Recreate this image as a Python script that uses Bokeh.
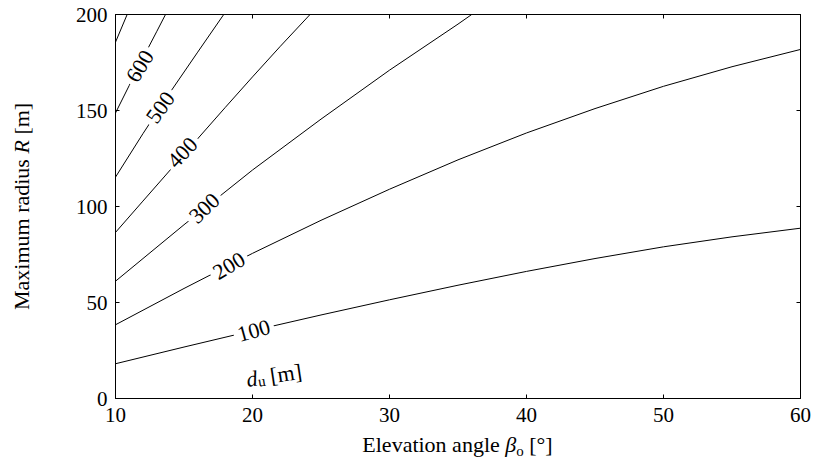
import math
from bokeh.plotting import figure
from bokeh.models import LinearAxis, Label, ColumnDataSource, FixedTicker, Range1d, Div
from bokeh.layouts import row, column
from bokeh.embed import file_html
from bokeh.resources import INLINE
from bokeh.core.properties import value

# ---------------- data ----------------
x_ticks = [10, 20, 30, 40, 50, 60]
y_ticks = [0, 50, 100, 150, 200]

beta_100 = [10, 15, 20, 25, 30, 35, 40, 45, 50, 55, 60]
R_100 = [18.1, 26.8, 35.3, 43.5, 51.4, 59.0, 66.2, 72.9, 79.0, 84.2, 88.7]

beta_200 = [10, 15, 20, 25, 30, 35, 40, 45, 50, 55, 60]
R_200 = [38.4, 57.3, 75.6, 92.8, 109.0, 124.3, 138.3, 151.0, 162.6, 172.8, 181.8]

beta_300 = [10, 15, 20, 25, 30, 35, 36]
R_300 = [61.1, 90.5, 119.0, 145.5, 171.0, 195.0, 200.0]

beta_400 = [10, 12, 15, 18, 20, 22, 24.2]
R_400 = [86.5, 102.8, 127.2, 151.5, 167.5, 183.2, 200.0]

beta_500 = [10, 12, 14, 16, 17.9]
R_500 = [115.3, 137.9, 159.6, 180.4, 200.0]

beta_600 = [10, 11, 12, 13, 13.65]
R_600 = [148.7, 163.0, 177.3, 191.0, 200.0]

beta_700 = [10, 10.85]
R_700 = [185.6, 200.0]

label_text = ["100", "200", "300", "400", "500", "600"]
label_beta = [20.1, 18.3, 16.5, 14.9, 13.3, 11.8]
label_R = [35.2, 69.0, 99.0, 128.0, 151.5, 173.0]
label_angle_deg = [15.4, 30.7, 43.5, 47.0, 54.5, 58.6]

x_title_html = "Elevation angle <i>&beta;</i><sub style='font-size:15px;vertical-align:-4px;line-height:0'>o</sub> [&deg;]"
y_title_html = "Maximum radius <i>R</i> [m]"

# ---------------- layout ----------------
TOTAL_W, TOTAL_H = 813, 462
YLAB_W, XLAB_H = 40, 30
PW, PH = TOTAL_W - YLAB_W, TOTAL_H - XLAB_H
BL, BR, BT, BB = 75, 13, 14, 34
FRAME_LEFT = YLAB_W + BL            # absolute page px
FRAME_BOTTOM = PH - BB              # absolute page px
FW = PW - BL - BR
X0, X1, Y0, Y1 = 10, 60, 0, 200
FONT = "Liberation Serif"

p = figure(width=PW, height=PH, x_range=Range1d(X0, X1), y_range=Range1d(Y0, Y1),
           output_backend="svg", toolbar_location=None, margin=0,
           min_border_left=BL, min_border_right=BR, min_border_top=BT, min_border_bottom=BB)
p.grid.visible = False
p.outline_line_color = "black"
p.outline_line_width = 1
p.background_fill_color = "white"
p.border_fill_color = "white"

for ax, ticks in ((p.xaxis[0], x_ticks), (p.yaxis[0], y_ticks)):
    ax.ticker = FixedTicker(ticks=ticks)
    ax.major_tick_in = 4
    ax.major_tick_out = 0
    ax.minor_tick_line_color = None
    ax.axis_line_color = "black"
    ax.major_tick_line_color = "black"
    ax.major_label_text_font = FONT
    ax.major_label_text_font_size = "21px"
    ax.major_label_text_color = "black"
p.xaxis[0].major_label_standoff = 9
p.yaxis[0].major_label_standoff = 8

top = LinearAxis(ticker=FixedTicker(ticks=x_ticks), major_tick_in=4, major_tick_out=0,
                 minor_tick_line_color=None, major_label_text_font_size="1px",
                 major_label_text_color=None, major_label_standoff=0, axis_line_color="black")
right = LinearAxis(ticker=FixedTicker(ticks=y_ticks), major_tick_in=4, major_tick_out=0,
                   minor_tick_line_color=None, major_label_text_font_size="1px",
                   major_label_text_color=None, major_label_standoff=0, axis_line_color="black")
p.add_layout(top, "above")
p.add_layout(right, "right")

curves = [(beta_100, R_100), (beta_200, R_200), (beta_300, R_300), (beta_400, R_400),
          (beta_500, R_500), (beta_600, R_600), (beta_700, R_700)]
for bb, rr in curves:
    p.line(x=bb, y=rr, line_color="black", line_width=1)

src = ColumnDataSource(dict(x=label_beta, y=label_R, text=label_text,
                            angle=[math.radians(a) for a in label_angle_deg]))
p.text(x="x", y="y", text="text", angle="angle", source=src,
       text_font=value(FONT), text_font_size="22px", text_color="black",
       text_align="center", text_baseline="middle",
       background_fill_color="white", padding=4)


def piece(txt, px, py, size, style="normal", angle=0.0):
    # px, py: absolute page pixels; converted to frame-relative screen units
    p.add_layout(Label(x=px - FRAME_LEFT, y=FRAME_BOTTOM - py, x_units="screen", y_units="screen",
                       text=txt, text_font=FONT,
                       text_font_size=f"{size}px", text_font_style=style,
                       angle=angle, text_align="left", text_baseline="alphabetic",
                       text_color="black"))


# in-plot label "d_u [m]"
fs, fss = 22, 15
sp = 0.25 * fs
th = 0.15
ax0, ay0 = 246, 379


def along(s, d):
    return ax0 + s * math.cos(th) + d * math.sin(th), ay0 - s * math.sin(th) + d * math.cos(th)


x_, y_ = along(0, 0)
piece("d", x_, y_, fs, "italic", angle=th)
x_, y_ = along(0.5 * fs, 4)
piece("u", x_, y_, fss, angle=th)
x_, y_ = along(0.5 * fs + 0.5 * fss + sp, 0)
piece("[m]", x_, y_, fs, angle=th)

# axis titles as HTML (mixed italic / subscript)
frame_cx = FRAME_LEFT + FW / 2
pad_left = int(round(2 * frame_cx - TOTAL_W))
ylab_h = 2 * (BT + (FRAME_BOTTOM - BT) / 2)   # box centred on the frame's vertical centre
xlab = Div(text=(f"<div style=\"width:{TOTAL_W}px;box-sizing:border-box;padding-left:{pad_left}px;"
                 f"margin-top:2px;text-align:center;white-space:nowrap;font-family:'{FONT}';"
                 f"font-size:22px;line-height:22px;color:#000;\">{x_title_html}</div>"),
           width=TOTAL_W, height=XLAB_H, margin=0)
ylab = Div(text=(f"<div style=\"writing-mode:vertical-rl;transform:rotate(180deg);"
                 f"height:{ylab_h:.0f}px;width:26px;margin-left:9px;"
                 f"text-align:center;white-space:nowrap;font-family:'{FONT}';font-size:22px;"
                 f"line-height:26px;color:#000;\">{y_title_html}</div>"),
           width=YLAB_W, height=PH, margin=0)

layout = column(row(ylab, p, spacing=0, margin=0), xlab, spacing=0, margin=0)
open("out.html", "w").write(file_html(layout, INLINE))
